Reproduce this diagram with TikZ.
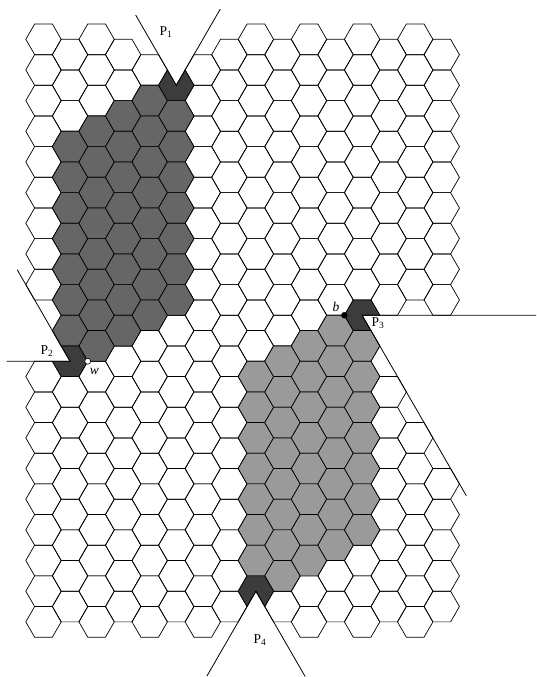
\documentclass[tikz,border=0pt]{standalone}
\usepackage{fontspec}
\setmainfont{Liberation Serif}
\definecolor{darkcell}{HTML}{666666}
\definecolor{lightcell}{HTML}{9A9A9A}
\definecolor{portcell}{HTML}{3C3C3C}
\usepackage{tikz}
\usetikzlibrary{calc}
\tikzset{
  hexline/.style={draw=black, line width=0.7pt, line join=miter},
  cutline/.style={draw=black, line width=0.8pt},
  portlabel/.style={font=\fontsize{13.5}{15}\selectfont, inner sep=0pt},
  vertlabel/.style={font=\fontsize{13.5}{15}\selectfont\itshape, inner sep=0pt},
  bdot/.style={circle, fill=black, draw=black, inner sep=0pt, minimum size=6pt},
  wdot/.style={circle, fill=white, draw=black, line width=0.6pt,
    inner sep=0pt, minimum size=6pt},
}

% one cell of the board: column, half-row index
\newcommand{\hexcell}[3][]{%
  \pgfmathsetmacro{\cellx}{\gx+\gdx*#2}%
  \pgfmathsetmacro{\celly}{\gy-\ghh*#3}%
  \path[hexline,#1] (\cellx,\celly) +(0:\hexr) -- +(60:\hexr) -- +(120:\hexr)
    -- +(180:\hexr) -- +(240:\hexr) -- +(300:\hexr) -- cycle;%
}
% port cell with its notch: column, half-row index, notch angle, name
\newcommand{\porthex}[4]{%
  \pgfmathsetmacro{\cellx}{\gx+\gdx*#1}%
  \pgfmathsetmacro{\celly}{\gy-\ghh*#2}%
  \coordinate (#4) at (\cellx,\celly);%
  \path[hexline, fill=portcell] (#4) -- +(#3+60:\hexr) -- +(#3+120:\hexr)
    -- +(#3+180:\hexr) -- +(#3+240:\hexr) -- +(#3+300:\hexr)
    -- +(#3+360:\hexr) -- cycle;%
}

\begin{document}
\begin{tikzpicture}[x=1pt, y=1pt]

  % ── Board geometry ───────────────────────────────────────────────
  \def\gx{43.5}     % column 0
  \def\gy{637.67}   % row 0
  \def\gdx{26.55}   % column step
  \def\ghh{15.33}   % half row step
  \def\hexr{17.7}   % cell radius

  \useasboundingbox[fill=white] (0,0) rectangle (536,677);

  % ── Empty board (cells inside the notches left out) ─────────────
  \foreach \c in {0,...,15}{
    \pgfmathtruncatemacro{\kfirst}{mod(\c,2)}
    \pgfmathtruncatemacro{\knext}{\kfirst+2}
    \pgfmathtruncatemacro{\klast}{38-\kfirst}
    \foreach \k in {\kfirst,\knext,...,\klast}{
      \pgfmathtruncatemacro{\gone}{(\k<=3 && 3*abs(\c-5)<=3-\k)
        || (\k<=21 && 3*(1-\c)>=21-\k)
        || (\k>=18 && \k-18<=3*(\c-12))
        || (\k>=36 && 3*abs(\c-8)<=\k-36)}
      \ifnum\gone=0 \hexcell{\c}{\k}\fi
    }
  }

  % ── Dark and light groups ───────────────────────────────────────
  \foreach \c/\klo/\khi/\cellcol in {1/7/19/darkcell, 2/6/20/darkcell,
      3/5/19/darkcell, 4/4/18/darkcell, 5/5/17/darkcell,
      8/22/34/lightcell, 9/21/35/lightcell, 10/20/34/lightcell,
      11/19/33/lightcell, 12/20/32/lightcell}{
    \pgfmathtruncatemacro{\knext}{\klo+2}
    \foreach \k in {\klo,\knext,...,\khi}{\hexcell[fill=\cellcol]{\c}{\k}}
  }

  % ── Ports ───────────────────────────────────────────────────────
  \porthex{5}{3}{60}{p1}
  \porthex{1}{21}{120}{p2}
  \porthex{12}{18}{300}{p3}
  \porthex{8}{36}{240}{p4}

  % ── Notch lines ─────────────────────────────────────────────────
  \draw[cutline] (p1) ++(120:81.2) -- (p1) -- +(60:88);
  \draw[cutline] (p2) ++(120:105.7) -- (p2) -- +(180:63.4);
  \draw[cutline] (p3) ++(0:174) -- (p3) -- +(300:208.4);
  \draw[cutline] (p4) ++(240:98) -- (p4) -- +(300:98.5);

  % ── Labels ──────────────────────────────────────────────────────
  \node[portlabel] (lp1) at (166,645) {P\textsubscript{1}};
  \node[portlabel] (lp2) at (47,326) {P\textsubscript{2}};
  \node[portlabel] (lp3) at (378,353.5) {P\textsubscript{3}};
  \node[portlabel] (lp4) at (260,36.5) {P\textsubscript{4}};

  \path (p3) ++(180:\hexr) node[bdot] (bv) {};
  \path (p2) ++(0:\hexr) node[wdot] (wv) {};
  \node[vertlabel] (lb) at (336,370) {b};
  \node[vertlabel] (lw) at (94.5,306) {w};

\end{tikzpicture}
\end{document}
